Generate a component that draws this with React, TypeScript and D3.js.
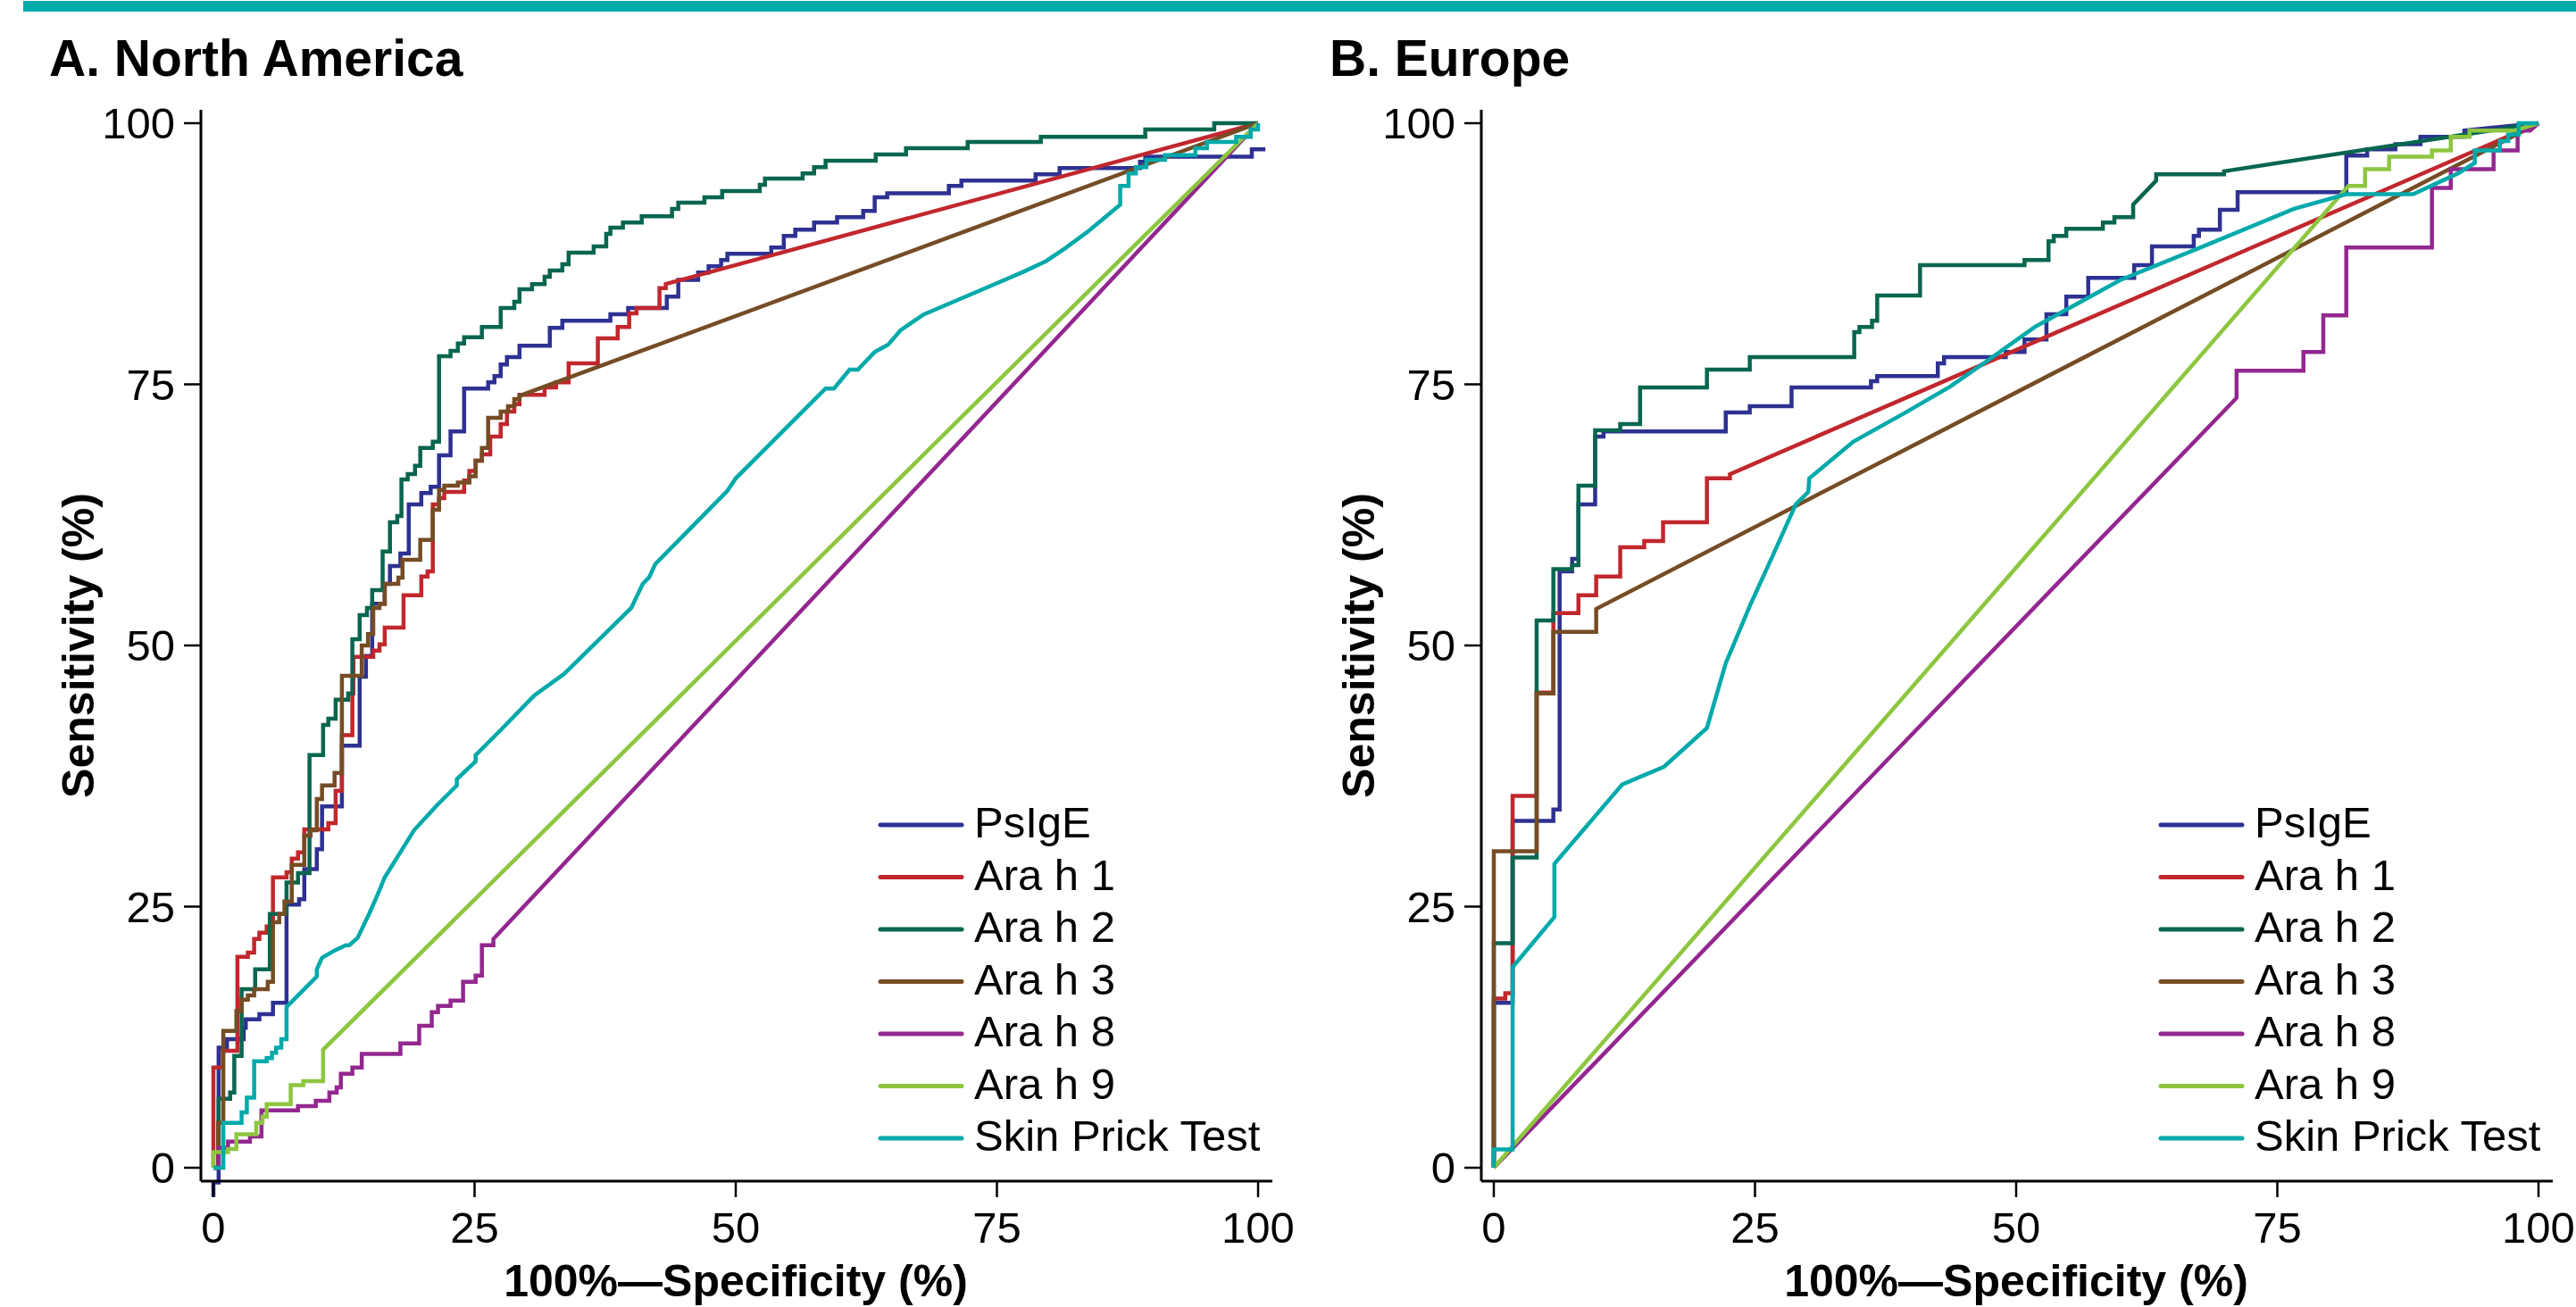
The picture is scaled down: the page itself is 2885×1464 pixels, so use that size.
import React from "react";
import * as d3 from "d3";

const W = 2885;
const H = 1464;

const seriesNames = ["PsIgE", "Ara h 1", "Ara h 2", "Ara h 3", "Ara h 8", "Ara h 9", "Skin Prick Test"];
const seriesColors = ["#2E3192", "#C1272D", "#08664F", "#754C24", "#93278F", "#8DC63F", "#00A9AA"];
const axisTicks = [0, 25, 50, 75, 100];

// ROC corners [100%-specificity, sensitivity]: reached by a horizontal then a vertical move.
// A third value of 1 means a straight (diagonal) segment to that point.
type Pt = number[];

// A. North America
const naPsIgE: Pt[] = [[0,-2.8],[0,-1.4],[0.5,-1.4],[0.5,11.5],[1.3,12.3],[2.9,13.4],[3.1,14.2],[4.4,14.7],[5.7,15.8],[7.0,25.2],[8.2,25.7],[8.7,28.6],[9.9,30.5],[10.4,34.6],[12.3,40.4],[14.0,47.0],[14.6,49.0],[15.2,54.0],[16.4,55.9],[16.9,57.6],[17.9,58.8],[18.7,63.5],[19.9,64.6],[20.8,65.2],[21.6,68.2],[22.7,70.5],[24.0,74.6],[26.3,75.2],[26.9,75.8],[27.5,76.9],[28.1,77.6],[29.3,78.7],[32.2,80.4],[33.4,81.1],[38.0,81.7],[39.7,82.3],[43.4,83.4],[44.5,85.0],[46.4,85.7],[47.4,86.3],[48.6,86.9],[49.2,87.5],[53.4,88.1],[54.6,89.2],[55.7,89.8],[57.5,90.5],[59.7,91.0],[62.2,91.6],[63.3,92.9],[64.5,93.3],[70.4,94.0],[71.6,94.5],[78.7,95.1],[81.0,95.7],[88.7,96.3],[89.2,96.8],[99.4,97.5],[100.7,97.5]];
const naAra1: Pt[] = [[0,0],[0,9.6],[0.9,11.2],[2.3,20.2],[3.3,20.6],[3.9,21.9],[4.4,22.5],[5.1,23.1],[5.7,27.8],[7.0,28.3],[7.5,29.6],[8.1,30.2],[8.7,32.4],[11.0,33.0],[11.7,36.1],[12.3,41.4],[13.3,45.4],[13.4,48.9],[15.3,49.5],[15.9,50.1],[16.4,51.7],[18.2,54.8],[19.9,56.6],[20.5,57.1],[21.0,63.5],[21.6,64.1],[22.1,64.7],[24.0,65.8],[24.5,66.7],[25.1,67.7],[25.7,68.3],[26.5,70.0],[27.5,71.2],[28.1,72.4],[28.8,73.1],[29.3,74.0],[31.7,74.7],[32.8,75.2],[34.0,77.0],[36.8,79.4],[38.7,80.5],[39.8,81.8],[40.5,82.3],[42.7,84.2],[43.3,84.6],[100,100,1]];
const naAra2: Pt[] = [[0,0],[0.5,0],[0.5,6.6],[1.6,7.2],[2.0,10.7],[2.7,17.1],[4.0,19.0],[5.4,24.3],[7.0,27.3],[8.1,28.2],[9.2,39.5],[10.5,42.4],[11.0,43.0],[11.7,44.8],[12.9,45.4],[13.3,50.6],[14.0,52.9],[14.7,53.6],[15.2,55.3],[16.2,59.0],[16.9,61.8],[17.6,62.4],[18.0,65.9],[18.6,66.4],[19.3,67.2],[19.8,68.9],[21.0,69.5],[21.6,77.7],[22.7,78.2],[23.4,78.9],[24.0,79.5],[25.7,80.5],[27.5,82.3],[28.8,82.9],[29.3,84.1],[30.5,84.6],[31.7,85.3],[32.2,85.9],[33.4,86.5],[34.0,87.6],[36.4,88.2],[37.6,89.4],[38.0,90.0],[39.2,90.5],[41.0,91.1],[43.9,91.8],[44.5,92.4],[47.0,92.9],[48.7,93.5],[52.3,94.1],[52.8,94.7],[56.4,95.2],[57.5,95.8],[58.6,96.4],[63.4,97.0],[66.3,97.6],[72.2,98.2],[79.2,98.7],[89.2,99.4],[95.8,100],[100,100]];
const naAra3: Pt[] = [[0,0],[0.45,0],[0.45,4.3],[0.95,13.1],[2.2,15.0],[2.7,16.1],[3.3,16.5],[3.9,17.1],[5.2,17.8],[5.7,23.5],[6.3,24.3],[6.8,25.5],[7.5,29.0],[8.7,31.8],[9.3,32.3],[9.9,35.3],[10.4,36.6],[11.6,37.8],[12.3,47.1],[14.2,50.0],[14.8,51.1],[15.3,53.6],[15.9,54.0],[16.4,55.9],[17.7,56.5],[18.1,58.2],[19.8,60.1],[21.0,63.0],[21.6,64.9],[22.1,65.3],[23.4,65.6],[24.5,66.2],[25.1,67.7],[25.7,68.9],[26.3,71.8],[27.5,72.4],[28.2,72.9],[28.8,73.6],[29.3,73.9],[100,100,1]];
const naAra8: Pt[] = [[0,0],[0.5,0],[0.5,1.9],[1.4,2.5],[3.5,3.0],[4.6,5.5],[8.1,5.9],[9.8,6.4],[11.1,7.2],[11.8,7.7],[12.2,9.0],[13.3,9.6],[14.2,10.9],[17.9,11.9],[19.7,13.6],[20.9,14.9],[21.5,15.5],[22.7,16.0],[23.9,17.8],[25.1,18.4],[25.7,21.3],[26.8,21.9],[100,100,1]];
const naAra9: Pt[] = [[0,0],[0,1.5],[1.4,1.8],[2.2,3.2],[4.1,4.3],[4.7,4.9],[5.1,6.1],[7.4,7.9],[8.6,8.3],[10.5,11.3],[100,100,1]];
const naSpt: Pt[] = [[0,0],[0.95,4.3],[2.7,5.3],[3.2,6.7],[3.9,10.2],[5.1,10.5],[5.6,11.0],[6.0,11.5],[6.5,12.3],[7.0,15.4],[9.9,18.3,1],[9.9,19.0],[10.4,20.1,1],[11.6,20.8,1],[12.7,21.3,1],[13.0,21.3],[13.8,22.0,1],[14.9,24.3,1],[15.7,26.1,1],[16.4,27.8,1],[17.9,30.2,1],[19.2,32.3,1],[21.4,34.7,1],[23.3,36.6,1],[23.3,37.2],[25.1,38.9,1],[25.1,39.5],[27.5,41.9,1],[30.7,45.2,1],[33.6,47.3,1],[40.0,53.6,1],[41.1,55.9,1],[41.7,56.5,1],[42.3,57.8,1],[49.2,64.8,1],[50.0,66.0,1],[57.0,73.0,1],[58.6,74.6,1],[59.4,74.6],[60.9,76.4,1],[61.7,76.4],[63.3,78.1,1],[64.6,78.8,1],[65.8,80.2,1],[68.0,81.7,1],[73.4,84.0,1],[77.6,85.8,1],[79.7,86.8,1],[81.5,88.0,1],[83.8,89.7,1],[85.6,91.2,1],[86.8,92.2,1],[86.8,94.0],[87.6,95.2],[88.3,95.8],[89.3,96.5],[91.1,96.95],[94.0,97.6],[95.1,98.2],[97.9,98.7],[99.3,99.4],[100,100]];

// B. Europe
const euPsIgE: Pt[] = [[0,0],[0,15.8],[1.8,33.2],[5.7,34.3],[6.3,57.1],[7.5,58.3],[8.1,63.5],[9.7,70.0],[10.5,70.5],[22.2,72.3],[24.5,72.9],[28.5,74.7],[36.1,75.3],[36.7,75.8],[42.5,77.0],[43.1,77.6],[49.0,78.1],[50.8,79.3],[52.9,81.7],[54.8,83.4],[56.9,85.2],[61.3,86.4],[63.0,88.2],[67.0,89.2],[67.5,89.8],[69.5,91.7],[71.2,93.4],[81.6,96.9],[83.6,97.5],[86.3,98.0],[88.7,98.7],[92.9,99.3],[100,100,1]];
const euAra1: Pt[] = [[0,0],[0,16.2],[1.1,16.7],[1.8,35.6],[4.1,45.5],[5.7,53.1],[8.1,54.8],[9.8,56.6],[12.1,59.4],[14.4,60.0],[16.2,61.8],[20.4,66.0],[22.6,66.4],[100,100,1]];
const euAra2: Pt[] = [[0,0],[0,21.5],[1.8,29.7],[4.1,52.4],[5.7,57.3],[7.5,57.7],[8.1,65.3],[9.7,70.6],[12.1,71.2],[14.0,74.7],[20.4,76.4],[24.5,77.6],[34.5,80.0],[35.0,80.5],[36.2,81.1],[36.7,83.5],[40.8,86.4],[50.8,86.9],[53.1,88.7],[53.6,89.2],[54.8,89.9],[58.3,90.5],[59.4,91.0],[61.2,92.2],[63.4,94.5,1],[63.4,95.1],[69.9,95.4],[100,100,1]];
const euAra3: Pt[] = [[0,0],[0,30.3],[4.1,45.4],[5.7,51.3],[9.8,53.5],[100,100,1]];
const euAra8: Pt[] = [[0,0],[71.1,73.7,1],[71.1,76.3],[77.5,78.1],[79.4,81.6],[81.6,88.1],[89.8,93.8],[91.6,95.6],[95.7,97.4],[98.0,99.3],[99.2,99.3],[100,100,1]];
const euAra9: Pt[] = [[0,0],[81.8,94.0,1],[83.4,95.6],[85.7,96.8],[89.8,97.4],[91.6,98.7],[93.4,99.3],[97.7,99.3],[100,100,1]];
const euSpt: Pt[] = [[0,0],[0,1.75],[1.8,19.2],[5.8,24.0,1],[5.8,29.1],[12.3,36.7,1],[16.3,38.4,1],[20.4,42.1,1],[22.2,48.3,1],[24.6,54.0,1],[26.7,58.6,1],[28.9,63.5,1],[30.1,64.7,1],[30.2,66.0,1],[34.4,69.5,1],[39.4,72.3,1],[43.7,74.8,1],[47.3,77.3,1],[51.8,80.5,1],[60.0,85.0,1],[67.4,88.0,1],[76.6,91.8,1],[81.6,93.2,1],[88.0,93.2],[92.3,95.2,1],[93.9,96.2,1],[93.9,97.4],[96.3,98.3],[97.1,98.9],[98.1,100],[100,100]];

const naSeries = [naPsIgE, naAra1, naAra2, naAra3, naAra8, naAra9, naSpt];
const euSeries = [euPsIgE, euAra1, euAra2, euAra3, euAra8, euAra9, euSpt];

function expand(pts: Pt[]): [number, number][] {
  const out: [number, number][] = [];
  pts.forEach((p, i) => {
    if (i > 0 && !p[2]) {
      const prev = out[out.length - 1];
      if (prev[0] !== p[0] && prev[1] !== p[1]) out.push([p[0], prev[1]]);
    }
    out.push([p[0], p[1]]);
  });
  return out;
}

const font = "'Liberation Sans', Arial, Helvetica, sans-serif";

const Panel = ({ off, title, series }: { off: number; title: string; series: Pt[][] }) => {
  const x = d3.scaleLinear().domain([0, 100]).range([239 + off, 1409 + off]);
  const y = d3.scaleLinear().domain([0, 100]).range([1308, 138]);
  const line = d3.line<[number, number]>().x(d => x(d[0])).y(d => y(d[1]));
  const axX = x(0) - 14;
  const axY = y(0) + 15;

  return (
    <g>
      <text x={off + 55} y={85} fontFamily={font} fontWeight="bold" fontSize={57}>{title}</text>

      {series.map((s, i) => (
        <path key={i} d={line(expand(s)) || ""} fill="none" stroke={seriesColors[i]} strokeWidth={4.5} />
      ))}

      <line x1={axX} x2={axX} y1={y(100) - 15} y2={axY} stroke="#000" strokeWidth={3} />
      <line x1={axX} x2={x(100) + 16} y1={axY} y2={axY} stroke="#000" strokeWidth={3} />

      {axisTicks.map(t => (
        <g key={"y" + t}>
          <line x1={axX - 19} x2={axX} y1={y(t)} y2={y(t)} stroke="#000" strokeWidth={2.5} />
          <text x={axX - 29} y={y(t) + 17} textAnchor="end" fontFamily={font} fontSize={49}>{t}</text>
        </g>
      ))}
      {axisTicks.map(t => (
        <g key={"x" + t}>
          <line x1={x(t)} x2={x(t)} y1={axY} y2={axY + 18} stroke="#000" strokeWidth={2.5} />
          <text x={x(t)} y={1392} textAnchor="middle" fontFamily={font} fontSize={49}>{t}</text>
        </g>
      ))}

      <text transform={`translate(${off + 105},${y(50)}) rotate(-90)`} textAnchor="middle"
        fontFamily={font} fontWeight="bold" fontSize={50}>Sensitivity (%)</text>
      <text x={x(50)} y={1452} textAnchor="middle" fontFamily={font} fontWeight="bold" fontSize={50}>
        100%—Specificity (%)
      </text>

      {seriesNames.map((n, i) => (
        <g key={n}>
          <line x1={off + 986} x2={off + 1077} y1={924 + i * 58.5} y2={924 + i * 58.5}
            stroke={seriesColors[i]} strokeWidth={5} strokeLinecap="round" />
          <text x={off + 1091} y={924 + i * 58.5 + 14} fontFamily={font} fontSize={49}>{n}</text>
        </g>
      ))}
    </g>
  );
};

export default function App() {
  return (
    <svg width={W} height={H} style={{ position: "absolute", left: 0, top: 0, background: "#fff" }}>
      <rect x={26} y={1} width={W - 26} height={12} fill="#00A9AA" />
      <Panel off={0} title="A. North America" series={naSeries} />
      <Panel off={1434} title="B. Europe" series={euSeries} />
    </svg>
  );
}
